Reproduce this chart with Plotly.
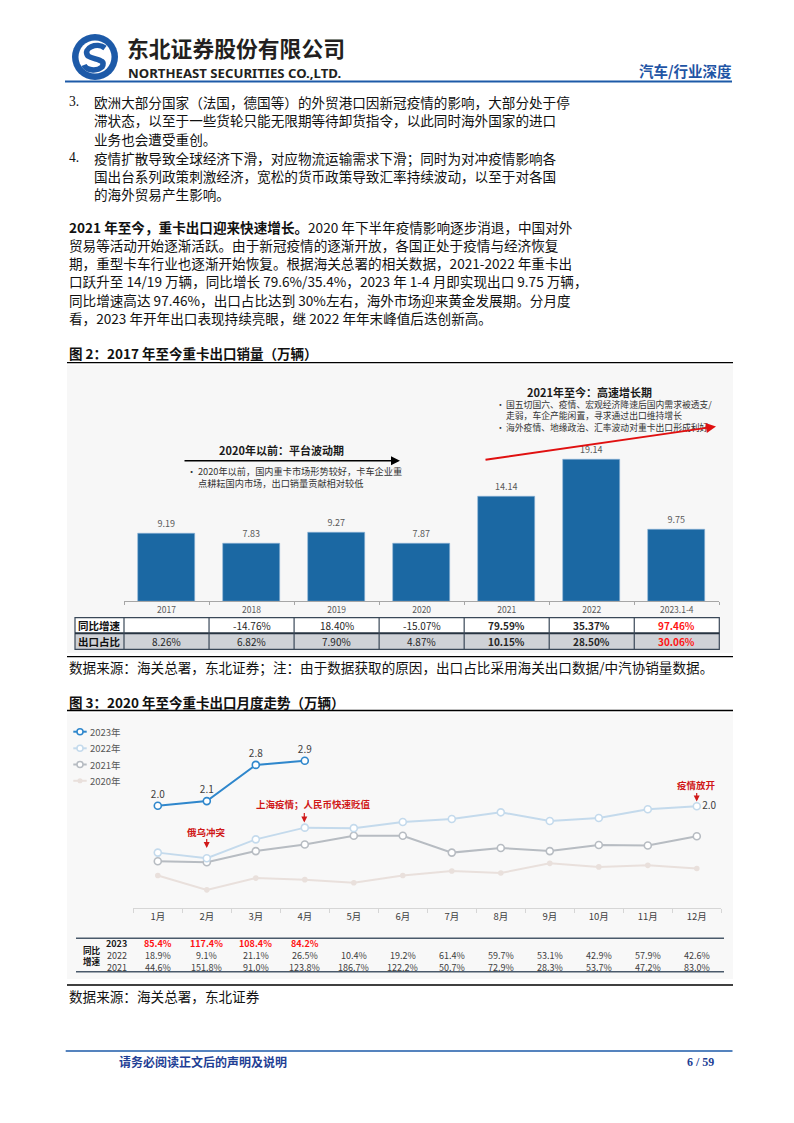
import plotly.graph_objects as go

W, H = 794, 1123
def X(px): return px / W
def Y(py): return 1 - py / H

FONT = "Noto Sans CJK SC"
LATIN = "Noto Sans"

# ---------------- data ----------------
years = ["2017", "2018", "2019", "2020", "2021", "2022", "2023.1-4"]
exports = [9.19, 7.83, 9.27, 7.87, 14.14, 19.14, 9.75]
yoy_growth = ["", "-14.76%", "18.40%", "-15.07%", "79.59%", "35.37%", "97.46%"]
export_share = ["8.26%", "6.82%", "7.90%", "4.87%", "10.15%", "28.50%", "30.06%"]

months = ["1月", "2月", "3月", "4月", "5月", "6月", "7月", "8月", "9月", "10月", "11月", "12月"]
m2023 = [2.00, 2.09, 2.80, 2.88]
m2022 = [1.08, 0.97, 1.34, 1.57, 1.56, 1.68, 1.74, 1.87, 1.70, 1.76, 1.93, 1.99]
m2021 = [0.91, 0.89, 1.11, 1.24, 1.41, 1.41, 1.08, 1.17, 1.11, 1.23, 1.22, 1.40]
m2020 = [0.63, 0.35, 0.58, 0.55, 0.49, 0.63, 0.72, 0.68, 0.87, 0.80, 0.83, 0.77]
yoy2023 = ["85.4%", "117.4%", "108.4%", "84.2%"]
yoy2022 = ["18.9%", "9.1%", "21.1%", "26.5%", "10.4%", "19.2%", "61.4%", "59.7%", "53.1%", "42.9%", "57.9%", "42.6%"]
yoy2021 = ["44.6%", "151.8%", "91.0%", "123.8%", "186.7%", "122.2%", "50.7%", "72.9%", "28.3%", "53.7%", "47.2%", "83.0%"]

list_items = [
    ("3.", "欧洲大部分国家（法国，德国等）的外贸港口因新冠疫情的影响，大部分处于停"),
    ("", "滞状态，以至于一些货轮只能无限期等待卸货指令，以此同时海外国家的进口"),
    ("", "业务也会遭受重创。"),
    ("4.", "疫情扩散导致全球经济下滑，对应物流运输需求下滑；同时为对冲疫情影响各"),
    ("", "国出台系列政策刺激经济，宽松的货币政策导致汇率持续波动，以至于对各国"),
    ("", "的海外贸易产生影响。"),
]
para_lines = [
    "<b>2021 年至今，重卡出口迎来快速增长。</b>2020 年下半年疫情影响逐步消退，中国对外",
    "贸易等活动开始逐渐活跃。由于新冠疫情的逐渐开放，各国正处于疫情与经济恢复",
    "期，重型卡车行业也逐渐开始恢复。根据海关总署的相关数据，2021-2022 年重卡出",
    "口跃升至 14/19 万辆，同比增长 79.6%/35.4%，2023 年 1-4 月即实现出口 9.75 万辆，",
    "同比增速高达 97.46%，出口占比达到 30%左右，海外市场迎来黄金发展期。分月度",
    "看，2023 年开年出口表现持续亮眼，继 2022 年年末峰值后迭创新高。",
]

# ---------------- helpers ----------------
shapes, annotations = [], []

def txt(x, y, s, size=13.6, color="#111111", bold=False, anchor="left", family=FONT, xref="paper", align="left"):
    annotations.append(dict(
        xref=xref, yref="paper", x=(X(x) if xref == "paper" else x), y=Y(y),
        text=(f"<b>{s}</b>" if bold else s), showarrow=False, align=align,
        xanchor=anchor, yanchor="middle", borderpad=0,
        font=dict(size=size, color=color, family=family)))

def hline(x0, x1, y, color="#000000", width=1.2):
    shapes.append(dict(type="line", xref="paper", yref="paper",
                       x0=X(x0), x1=X(x1), y0=Y(y), y1=Y(y),
                       line=dict(color=color, width=width)))

def rect(x0, x1, y0, y1, fill, line_color=None, width=0, layer="below"):
    shapes.append(dict(type="rect", xref="paper", yref="paper",
                       x0=X(x0), x1=X(x1), y0=Y(y1), y1=Y(y0),
                       fillcolor=fill, layer=layer,
                       line=dict(color=line_color or fill, width=width)))

def arrow(hx, hy, tx, ty, color, width=1.2, head=2, size=1.0):
    annotations.append(dict(
        xref="paper", yref="paper", x=X(hx), y=Y(hy),
        axref="pixel", ayref="pixel", ax=tx - hx, ay=ty - hy,
        text="", showarrow=True, arrowhead=head, arrowsize=size,
        arrowwidth=width, arrowcolor=color, standoff=0, startstandoff=0))

# ---------------- header ----------------
BLUE = "#1d5aa8"
cx, cy, r = 95, 57, 23
shapes.append(dict(type="circle", xref="paper", yref="paper",
                   x0=X(cx - r), x1=X(cx + r), y0=Y(cy + r), y1=Y(cy - r),
                   fillcolor=BLUE, line=dict(width=0)))
r2 = 16.5
shapes.append(dict(type="circle", xref="paper", yref="paper",
                   x0=X(cx - r2), x1=X(cx + r2), y0=Y(cy + r2), y1=Y(cy - r2),
                   fillcolor="white", line=dict(width=0)))
def P(px, py): return f"{X(px):.5f},{Y(py):.5f}"
s_path = ("M " + P(cx + 10, cy - 9) + " C " + P(cx + 2, cy - 15) + " " + P(cx - 13, cy - 9) + " " + P(cx - 7, cy - 1)
          + " C " + P(cx - 1, cy + 3) + " " + P(cx + 12, cy + 2) + " " + P(cx + 7, cy + 10)
          + " C " + P(cx + 1, cy + 15) + " " + P(cx - 9, cy + 13) + " " + P(cx - 11, cy + 8))
shapes.append(dict(type="path", xref="paper", yref="paper", path=s_path,
                   line=dict(color=BLUE, width=5.5)))
txt(126, 48, "东北证券股份有限公司", size=21.8, color="#231f20", bold=True)
txt(127, 72.8, "NORTHEAST SECURITIES CO.,LTD.", size=13.2, color="#231f20", bold=True, family=LATIN)
txt(733, 70, "汽车/行业深度", size=14.5, color="#1f55a5", bold=True, anchor="right")
hline(65, 732, 81.5, color=BLUE, width=2)

# ---------------- body text ----------------
list_y = [101.7, 120.2, 139.0, 158.0, 175.8, 193.5]
for (num, line), yy in zip(list_items, list_y):
    if num:
        txt(68, yy, num, size=13.6, family="Liberation Serif")
    txt(93, yy, line, size=13.6)
para_y = [226.7, 245.0, 263.3, 281.4, 299.6, 317.8]
for line, yy in zip(para_lines, para_y):
    txt(68, yy, line, size=13.6)

# ---------------- figure 2 ----------------
txt(68, 353, "图 2：2017 年至今重卡出口销量（万辆）", size=13.5, bold=True)
hline(67, 733, 362.7, width=1.3)
rect(67, 733, 365, 653, "#f7f7f7")

BUL = "#333333"
txt(281, 450, "2020年以前：平台波动期", size=11, bold=True, anchor="center", color="#1a1a1a")
arrow(400, 460.7, 183, 460.7, "#000000", width=1.5, head=2, size=1.2)
txt(186, 476.5, "•<br> ", size=9.2, color=BUL)
txt(196.5, 476.5, "2020年以前，国内重卡市场形势较好，卡车企业重<br>点耕耘国内市场，出口销量贡献相对较低",
    size=9.2, color=BUL)

txt(589, 391.7, "2021年至今：高速增长期", size=11, bold=True, anchor="center", color="#1a1a1a")
txt(494.5, 416, "•<br> <br>•", size=8.8, color=BUL)
txt(504.5, 416, "国五切国六、疫情、宏观经济降速后国内需求被透支/<br>走弱，车企产能闲置，寻求通过出口维持增长"
    "<br>海外疫情、地缘政治、汇率波动对重卡出口形成利好", size=8.8, color=BUL)
arrow(716, 426.5, 484, 460, "#e01010", width=2, head=2, size=1.0)

# table under bar chart
T1_TOP, T1_MID, T1_BOT = 617.7, 633.3, 649.3
T1_L, T1_LAB, T1_R = 75, 124, 719.3
rect(T1_L, T1_R, T1_TOP, T1_MID, "#ffffff", layer="above")
rect(T1_L, T1_R, T1_MID, T1_BOT, "#cfd2d7", layer="above")
shapes.append(dict(type="rect", xref="paper", yref="paper", x0=X(T1_L), x1=X(T1_R),
                   y0=Y(T1_BOT), y1=Y(T1_TOP), line=dict(color="#3a4858", width=1.2)))
hline(T1_L, T1_R, T1_MID, color="#263340", width=2)
shapes.append(dict(type="line", xref="paper", yref="paper", x0=X(T1_LAB), x1=X(T1_LAB),
                   y0=Y(T1_BOT), y1=Y(T1_TOP), line=dict(color="#3a4858", width=1.2)))
for i in range(len(years) - 1):
    shapes.append(dict(type="line", xref="x", yref="paper", x0=i + 0.5, x1=i + 0.5,
                       y0=Y(T1_BOT), y1=Y(T1_TOP), line=dict(color="#3a4858", width=1.2)))
txt((T1_L + T1_LAB) / 2, (T1_TOP + T1_MID) / 2, "同比增速", size=10.5, bold=True, anchor="center")
txt((T1_L + T1_LAB) / 2, (T1_MID + T1_BOT) / 2, "出口占比", size=10.5, bold=True, anchor="center")
for i, yr in enumerate(years):
    bold = i >= 4
    col = "#ff1414" if i == len(years) - 1 else "#262626"
    if yoy_growth[i]:
        txt(i, (T1_TOP + T1_MID) / 2, yoy_growth[i], size=10, bold=bold, color=col, anchor="center", xref="x")
    txt(i, (T1_MID + T1_BOT) / 2, export_share[i], size=10, bold=bold, color=col, anchor="center", xref="x")

hline(67, 733, 656.7, width=1.3)
txt(68, 667.3, "数据来源：海关总署，东北证券；注：由于数据获取的原因，出口占比采用海关出口数据/中汽协销量数据。", size=13.6)

# ---------------- figure 3 ----------------
txt(68, 702.3, "图 3：2020 年至今重卡出口月度走势（万辆）", size=13.5, bold=True)
hline(67, 733, 710.5, width=1.3)
rect(67, 733, 713, 979, "#f8f8f8")

C23, C22, C21, C20 = "#2f87cc", "#c4daec", "#b7bcc2", "#e9e0dc"
legend_rows = [("2023年", C23, 731.7), ("2022年", C22, 748.3), ("2021年", C21, 764.5), ("2020年", C20, 780.8)]
for name, col, yy in legend_rows:
    hline(73.3, 86.7, yy, color=col, width=2)
    rr = 3.0 if name != "2020年" else 1.8
    shapes.append(dict(type="circle", xref="paper", yref="paper",
                       x0=X(80 - rr), x1=X(80 + rr), y0=Y(yy + rr), y1=Y(yy - rr),
                       fillcolor=("white" if name != "2020年" else col),
                       line=dict(color=col, width=1.5)))
    txt(88.5, yy, name, size=9.5, color="#595959")

txt(206.7, 832.3, "俄乌冲突", size=9.5, bold=True, color="#d01818", anchor="center")
arrow(206.7, 848, 206.7, 837.5, "#d01818", width=1.2, head=2, size=1.0)
txt(313.5, 804.3, "上海疫情；人民币快速贬值", size=9.5, bold=True, color="#d01818", anchor="center")
arrow(304.3, 822.5, 304.3, 811.5, "#d01818", width=1.2, head=2, size=1.0)
txt(696.7, 785, "疫情放开", size=9.5, bold=True, color="#d01818", anchor="center")
arrow(696.7, 801.5, 696.7, 791.5, "#d01818", width=1.2, head=2, size=1.0)

# table under line chart
hline(76, 724, 938.3, color="#4a5a6b", width=1.5)
hline(76, 724, 971.7, color="#4a5a6b", width=1.5)
txt(91.7, 955.4, "同比<br>增速", size=8.6, bold=True, anchor="center", align="center")
row_y = {"2023": 943.8, "2022": 955.4, "2021": 967.0}
txt(116.7, row_y["2023"], "2023", size=9, bold=True, anchor="center", color="#1a1a1a")
txt(116.7, row_y["2022"], "2022", size=9, anchor="center", color="#404040")
txt(116.7, row_y["2021"], "2021", size=9, anchor="center", color="#404040")
for i, m in enumerate(months):
    if i < len(yoy2023):
        txt(i, row_y["2023"], yoy2023[i], size=9, bold=True, color="#ff1414", anchor="center", xref="x2")
    txt(i, row_y["2022"], yoy2022[i], size=9, color="#404040", anchor="center", xref="x2")
    txt(i, row_y["2021"], yoy2021[i], size=9, color="#404040", anchor="center", xref="x2")

hline(67, 733, 985, width=1.3)
txt(68, 995.7, "数据来源：海关总署，东北证券", size=13.6)

# ---------------- footer ----------------
hline(65.7, 732.5, 1051, color=BLUE, width=1.5)
txt(118, 1061.5, "请务必阅读正文后的声明及说明", size=12, bold=True, color="#1f3f95")
txt(715, 1061.5, "6 / 59", size=12, bold=True, color="#1f3f95", anchor="right", family="Liberation Serif")

# ---------------- traces ----------------
fig = go.Figure()
fig.add_trace(go.Bar(
    x=years, y=exports, xaxis="x", yaxis="y", width=0.667,
    marker=dict(color="#1b68a3", line=dict(color="#8db6d8", width=0.6)),
    text=[f"{v:.2f}" for v in exports], textposition="outside",
    textfont=dict(size=9, color="#595959", family=FONT),
    cliponaxis=False, showlegend=False, hoverinfo="skip"))

def line_trace(vals, col, size, fill, lw, labels=None, tpos="top center"):
    return go.Scatter(
        x=months[:len(vals)], y=vals, xaxis="x2", yaxis="y2",
        mode="lines+markers+text" if labels else "lines+markers",
        line=dict(color=col, width=lw),
        marker=dict(size=size, color=fill, line=dict(color=col, width=1.6)),
        text=labels, textposition=tpos,
        textfont=dict(size=10, color="#404040", family=FONT),
        cliponaxis=False, showlegend=False, hoverinfo="skip")

fig.add_trace(line_trace(m2020, C20, 4, C20, 2))
fig.add_trace(line_trace(m2021, C21, 7, "white", 2))
fig.add_trace(line_trace(m2022, C22, 7, "white", 2,
                         labels=["" for _ in m2022[:-1]] + [f"{m2022[-1]:.1f}"], tpos="middle right"))
fig.add_trace(line_trace(m2023, C23, 7, "white", 2, labels=[f"{v:.1f}" for v in m2023]))

BAR_AX, BAR_SCALE, BAR_MAX = 601.3, 7.39, 25
LN_AX, LN_SCALE, LN_MAX = 907.7, 51.0, 3.6

fig.update_layout(
    width=W, height=H, margin=dict(l=0, r=0, t=0, b=0),
    paper_bgcolor="white", plot_bgcolor="rgba(0,0,0,0)",
    showlegend=False, bargap=0,
    xaxis=dict(domain=[X(124), X(719.3)], type="category", range=[-0.5, 6.5],
               tickson="boundaries", ticks="outside", ticklen=3, tickcolor="#a6a6a6",
               showline=True, linecolor="#a6a6a6", linewidth=1, showgrid=False, zeroline=False,
               tickfont=dict(size=8.5, color="#595959", family=FONT), anchor="y", fixedrange=True),
    yaxis=dict(domain=[Y(BAR_AX), Y(BAR_AX - BAR_SCALE * BAR_MAX)], range=[0, BAR_MAX],
               visible=False, anchor="x", fixedrange=True),
    xaxis2=dict(domain=[X(133.3), X(721.3)], type="category", range=[-0.5, 11.5],
                tickson="boundaries", ticks="outside", ticklen=4, tickcolor="#d6d6d6",
                showline=True, linecolor="#d6d6d6", linewidth=1, showgrid=False, zeroline=False,
                tickfont=dict(size=9.5, color="#404040", family=FONT), anchor="y2", fixedrange=True),
    yaxis2=dict(domain=[Y(LN_AX), Y(LN_AX - LN_SCALE * LN_MAX)], range=[0, LN_MAX],
                visible=False, anchor="x2", fixedrange=True),
    shapes=shapes, annotations=annotations,
)

fig.write_html("out.html", config={"displayModeBar": False})
